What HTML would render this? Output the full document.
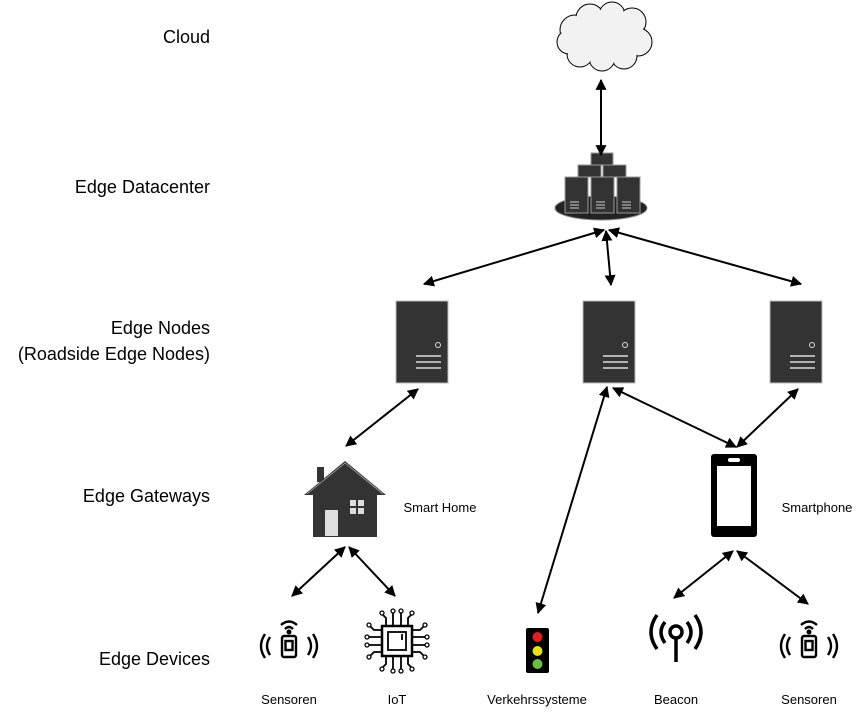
<!DOCTYPE html>
<html><head><meta charset="utf-8"><style>
html,body{margin:0;padding:0;background:#fff}
svg{display:block}
text{font-family:"Liberation Sans",sans-serif;fill:#000}
</style></head><body>
<svg width="866" height="717" viewBox="0 0 866 717" xmlns="http://www.w3.org/2000/svg">
<defs>
<marker id="a" viewBox="0 0 10 10" refX="9" refY="5" markerWidth="5.5" markerHeight="5.5" orient="auto-start-reverse"><path d="M0,0 L10,5 L0,10 z" fill="#000"/></marker>
<g id="srv"><rect x="0" y="0" width="52" height="82" fill="#333" stroke="#bbb" stroke-width="1"/><circle cx="42" cy="44" r="2.5" fill="none" stroke="#ddd" stroke-width="1"/><g stroke="#ddd" stroke-width="1.5"><line x1="20" y1="55" x2="45" y2="55"/><line x1="20" y1="61" x2="45" y2="61"/><line x1="20" y1="67" x2="45" y2="67"/></g></g>
<g id="sens" fill="none" stroke="#000" stroke-width="2.4">
<rect x="-7" y="-10" width="14" height="21" rx="2"/><rect x="-3.5" y="-5" width="7" height="9"/>
<path d="M-19,-9 Q-25,0 -19,9"/><path d="M-24,-12 Q-32,0 -24,12"/><path d="M19,-9 Q25,0 19,9"/><path d="M24,-12 Q32,0 24,12"/>
<path d="M-4,-17 Q0,-21 4,-17"/><path d="M-8,-21 Q0,-28 8,-21"/><circle cx="0" cy="-14" r="1.3" fill="#000"/>
</g>
</defs>
<g font-size="18" text-anchor="end">
<text x="210" y="43">Cloud</text>
<text x="210" y="193">Edge Datacenter</text>
<text x="210" y="334">Edge Nodes</text>
<text x="210" y="360">(Roadside Edge Nodes)</text>
<text x="210" y="502">Edge Gateways</text>
<text x="210" y="665">Edge Devices</text>
</g>
<g font-size="13" text-anchor="middle">
<text x="289" y="704">Sensoren</text>
<text x="397" y="704">IoT</text>
<text x="537" y="704">Verkehrssysteme</text>
<text x="676" y="704">Beacon</text>
<text x="809" y="704">Sensoren</text>
<text x="440" y="512">Smart Home</text>
<text x="817" y="512">Smartphone</text>
</g>
<g>
<g fill="#f2f2f2" stroke="#000" stroke-width="1">
<circle cx="575" cy="30" r="15"/><circle cx="590" cy="18" r="14"/><circle cx="612" cy="15" r="13"/><circle cx="632" cy="22" r="14"/><circle cx="638" cy="42" r="14"/><circle cx="624" cy="56" r="13"/><circle cx="602" cy="58" r="13"/><circle cx="580" cy="54" r="13"/><circle cx="569" cy="42" r="12"/>
</g>
<g fill="#f2f2f2">
<circle cx="575" cy="30" r="14"/><circle cx="590" cy="18" r="13"/><circle cx="612" cy="15" r="12"/><circle cx="632" cy="22" r="13"/><circle cx="638" cy="42" r="13"/><circle cx="624" cy="56" r="12"/><circle cx="602" cy="58" r="12"/><circle cx="580" cy="54" r="12"/><circle cx="569" cy="42" r="11"/><circle cx="604" cy="37" r="25"/>
</g>
</g>
<ellipse cx="601" cy="208" rx="46" ry="12" fill="#222" stroke="#888" stroke-width="1"/>
<g fill="#333" stroke="#999" stroke-width="1">
<rect x="591" y="153" width="22" height="12"/>
<rect x="578" y="165" width="23" height="12"/><rect x="603" y="165" width="23" height="12"/>
<rect x="565" y="177" width="23" height="36"/><rect x="591" y="177" width="23" height="36"/><rect x="617" y="177" width="23" height="36"/>
</g>
<g stroke="#ccc" stroke-width="1"><path d="M570,202h9M570,205h9M570,208h9M596,202h9M596,205h9M596,208h9M622,202h9M622,205h9M622,208h9"/></g>
<use href="#srv" x="396" y="301"/><use href="#srv" x="583" y="301"/><use href="#srv" x="770" y="301"/>
<path d="M304,495 L345,461 L386,495 L377,495 L377,537 L313,537 L313,495 Z" fill="#333"/>
<rect x="317" y="467" width="7" height="15" fill="#333"/>
<path d="M307,494 L345,463 L383,494" fill="none" stroke="#aaa" stroke-width="0.8"/>
<rect x="325" y="510" width="13" height="26" fill="#ddd"/>
<g fill="#ddd"><rect x="350" y="500" width="6" height="6"/><rect x="358" y="500" width="6" height="6"/><rect x="350" y="508" width="6" height="6"/><rect x="358" y="508" width="6" height="6"/></g>
<rect x="711" y="454" width="46" height="83" rx="3" fill="#000"/>
<rect x="717" y="466" width="34" height="60" fill="#fff"/>
<rect x="728" y="458" width="12" height="4" rx="2" fill="#fff"/>
<rect x="526" y="628" width="23" height="45" rx="2" fill="#000"/>
<circle cx="537.5" cy="637" r="5" fill="#e02020"/><circle cx="537.5" cy="651" r="5" fill="#e8e020"/><circle cx="537.5" cy="664" r="5" fill="#6abf40"/>
<g fill="none" stroke="#000" stroke-width="3.5">
<circle cx="676" cy="632" r="6"/><line x1="676" y1="638" x2="676" y2="662"/>
<path d="M665,622 Q657,632 665,643"/><path d="M687,622 Q695,632 687,643"/>
<path d="M657,615 Q645,632 657,649"/><path d="M695,615 Q707,632 695,649"/>
</g>
<use href="#sens" x="289" y="646"/><use href="#sens" x="809" y="646"/>
<g fill="none" stroke="#000" stroke-width="1.8">
<rect x="382" y="626" width="30" height="30" stroke-width="2.5"/><rect x="388" y="632" width="18" height="18"/>
<line x1="402" y1="634" x2="402" y2="640"/>
<path d="M386,626v-8l-4,-4 M393,626v-13 M401,626v-13 M408,626v-8l4,-4"/>
<path d="M386,656v8l-4,4 M393,656v13 M401,656v13 M408,656v8l4,4"/>
<path d="M382,630h-8l-4,-4 M382,637h-13 M382,645h-13 M382,652h-8l-4,4"/>
<path d="M412,630h8l4,-4 M412,637h13 M412,645h13 M412,652h8l4,4"/>
</g>
<g fill="#fff" stroke="#000" stroke-width="1.3">
<circle cx="382" cy="613" r="2"/><circle cx="393" cy="611" r="2"/><circle cx="401" cy="611" r="2"/><circle cx="412" cy="613" r="2"/>
<circle cx="382" cy="669" r="2"/><circle cx="393" cy="671" r="2"/><circle cx="401" cy="671" r="2"/><circle cx="412" cy="669" r="2"/>
<circle cx="369" cy="625" r="2"/><circle cx="367" cy="637" r="2"/><circle cx="367" cy="645" r="2"/><circle cx="369" cy="657" r="2"/>
<circle cx="425" cy="625" r="2"/><circle cx="427" cy="637" r="2"/><circle cx="427" cy="645" r="2"/><circle cx="425" cy="657" r="2"/>
</g>
<g stroke="#000" stroke-width="2" fill="none" marker-start="url(#a)" marker-end="url(#a)">
<line x1="601" y1="80" x2="601" y2="155"/>
<line x1="604" y1="230" x2="424" y2="284"/>
<line x1="606" y1="231" x2="611" y2="285"/>
<line x1="609" y1="230" x2="801" y2="284"/>
<line x1="418" y1="389" x2="346" y2="446"/>
<line x1="607" y1="387" x2="538" y2="613"/>
<line x1="613" y1="388" x2="736" y2="447"/>
<line x1="798" y1="389" x2="737" y2="447"/>
<line x1="345" y1="547" x2="292" y2="596"/>
<line x1="349" y1="547" x2="395" y2="596"/>
<line x1="733" y1="551" x2="674" y2="598"/>
<line x1="737" y1="551" x2="808" y2="604"/>
</g>
</svg>
</body></html>
